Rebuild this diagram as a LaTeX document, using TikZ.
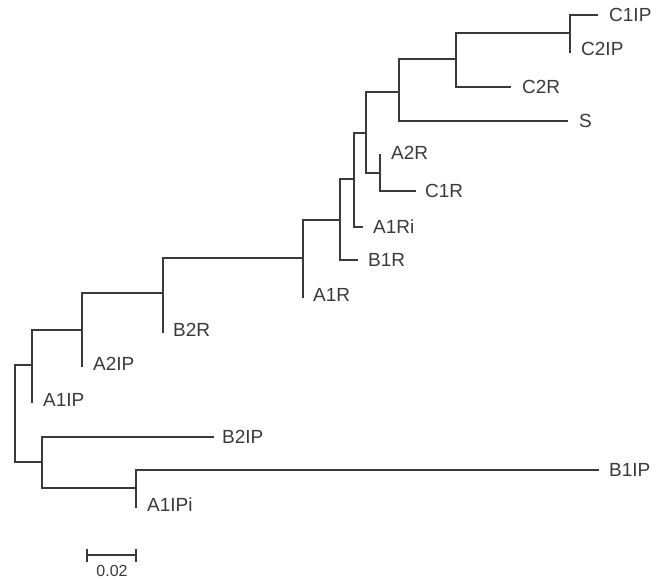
\documentclass[tikz,border=0pt]{standalone}
\usepackage{fontspec}
\setmainfont{Liberation Sans}
\definecolor{ink}{HTML}{3A3A3A}
\begin{document}
\begin{tikzpicture}[x=1pt,y=-1pt,
  br/.style={draw=ink,line width=1.3pt,line cap=rect},
  lbl/.style={anchor=west,inner sep=0pt,text=ink,font=\fontsize{19}{22}\selectfont},
  sclbl/.style={inner sep=0pt,text=ink,font=\fontsize{16}{19}\selectfont}]
\useasboundingbox (0,0) rectangle (662,580);
% internal nodes: top and bottom of verticals
\coordinate (r0t) at (15,365);  \coordinate (r0b) at (15,462);
\coordinate (n1t) at (32,330);  \coordinate (n1b) at (32,402);
\coordinate (n2t) at (82,293);  \coordinate (n2b) at (82,366);
\coordinate (n3t) at (163,258); \coordinate (n3b) at (163,332);
\coordinate (n4t) at (303,220); \coordinate (n4b) at (303,297);
\coordinate (n5t) at (340,179); \coordinate (n5b) at (340,260);
\coordinate (n6t) at (354,133); \coordinate (n6b) at (354,227);
\coordinate (n7t) at (366,92);  \coordinate (n7b) at (366,173);
\coordinate (n8t) at (380,155); \coordinate (n8b) at (380,191);
\coordinate (n9t) at (399,59);  \coordinate (n9b) at (399,121);
\coordinate (n10t) at (456,33); \coordinate (n10b) at (456,87);
\coordinate (n11t) at (570,15); \coordinate (n11b) at (570,52);
\coordinate (m1t) at (42,437);  \coordinate (m1b) at (42,488);
\coordinate (m2t) at (136,470); \coordinate (m2b) at (136,507);
% leaf ends
\coordinate (eB1R) at (357,260);
\coordinate (eA1Ri) at (362,227);
\coordinate (eC1R) at (415,191);
\coordinate (eS) at (567,121);
\coordinate (eC2R) at (510,87);
\coordinate (eC1IP) at (597,15);
\coordinate (eB2IP) at (213,437);
\coordinate (eB1IP) at (598,470);
% verticals
\foreach \n in {r0,n1,n2,n3,n4,n5,n6,n7,n8,n9,n10,n11,m1,m2}
  \draw[br] (\n t) -- (\n b);
% horizontal connections between internal nodes
\draw[br] (r0t) -- (r0t -| n1t);
\draw[br] (n1t) -- (n1t -| n2t);
\draw[br] (n2t) -- (n2t -| n3t);
\draw[br] (n3t) -- (n3t -| n4t);
\draw[br] (n4t) -- (n4t -| n5t);
\draw[br] (n5t) -- (n5t -| n6t);
\draw[br] (n6t) -- (n6t -| n7t);
\draw[br] (n7b) -- (n7b -| n8t);
\draw[br] (n7t) -- (n7t -| n9t);
\draw[br] (n9t) -- (n9t -| n10t);
\draw[br] (n10t) -- (n10t -| n11t);
\draw[br] (r0b) -- (r0b -| m1t);
\draw[br] (m1b) -- (m1b -| m2t);
% leaf branches
\draw[br] (n5b) -- (eB1R);
\draw[br] (n6b) -- (eA1Ri);
\draw[br] (n8b) -- (eC1R);
\draw[br] (n9b) -- (eS);
\draw[br] (n10b) -- (eC2R);
\draw[br] (n11t) -- (eC1IP);
\draw[br] (m1t) -- (eB2IP);
\draw[br] (m2t) -- (eB1IP);
% labels
\node[lbl] (lC1IP) at (609,15) {C1IP};
\node[lbl] (lC2IP) at (581,49) {C2IP};
\node[lbl] (lC2R) at (522,87) {C2R};
\node[lbl] (lS) at (579,121) {S};
\node[lbl] (lA2R) at (391,153) {A2R};
\node[lbl] (lC1R) at (425,191) {C1R};
\node[lbl] (lA1Ri) at (373,227) {A1Ri};
\node[lbl] (lB1R) at (368,260) {B1R};
\node[lbl] (lA1R) at (313,295) {A1R};
\node[lbl] (lB2R) at (173,330) {B2R};
\node[lbl] (lA2IP) at (93,364) {A2IP};
\node[lbl] (lA1IP) at (43,400) {A1IP};
\node[lbl] (lB2IP) at (222,437) {B2IP};
\node[lbl] (lB1IP) at (609,470) {B1IP};
\node[lbl] (lA1IPi) at (147,505) {A1IPi};
% scale bar
\coordinate (sbL) at (87,555); \coordinate (sbR) at (136,555);
\draw[br] (sbL) -- (sbR);
\draw[br] ([yshift=5]sbL) -- ([yshift=-6]sbL);
\draw[br] ([yshift=5]sbR) -- ([yshift=-6]sbR);
\node[sclbl] (sc) at (112,571) {0.02};
\end{tikzpicture}
\end{document}
